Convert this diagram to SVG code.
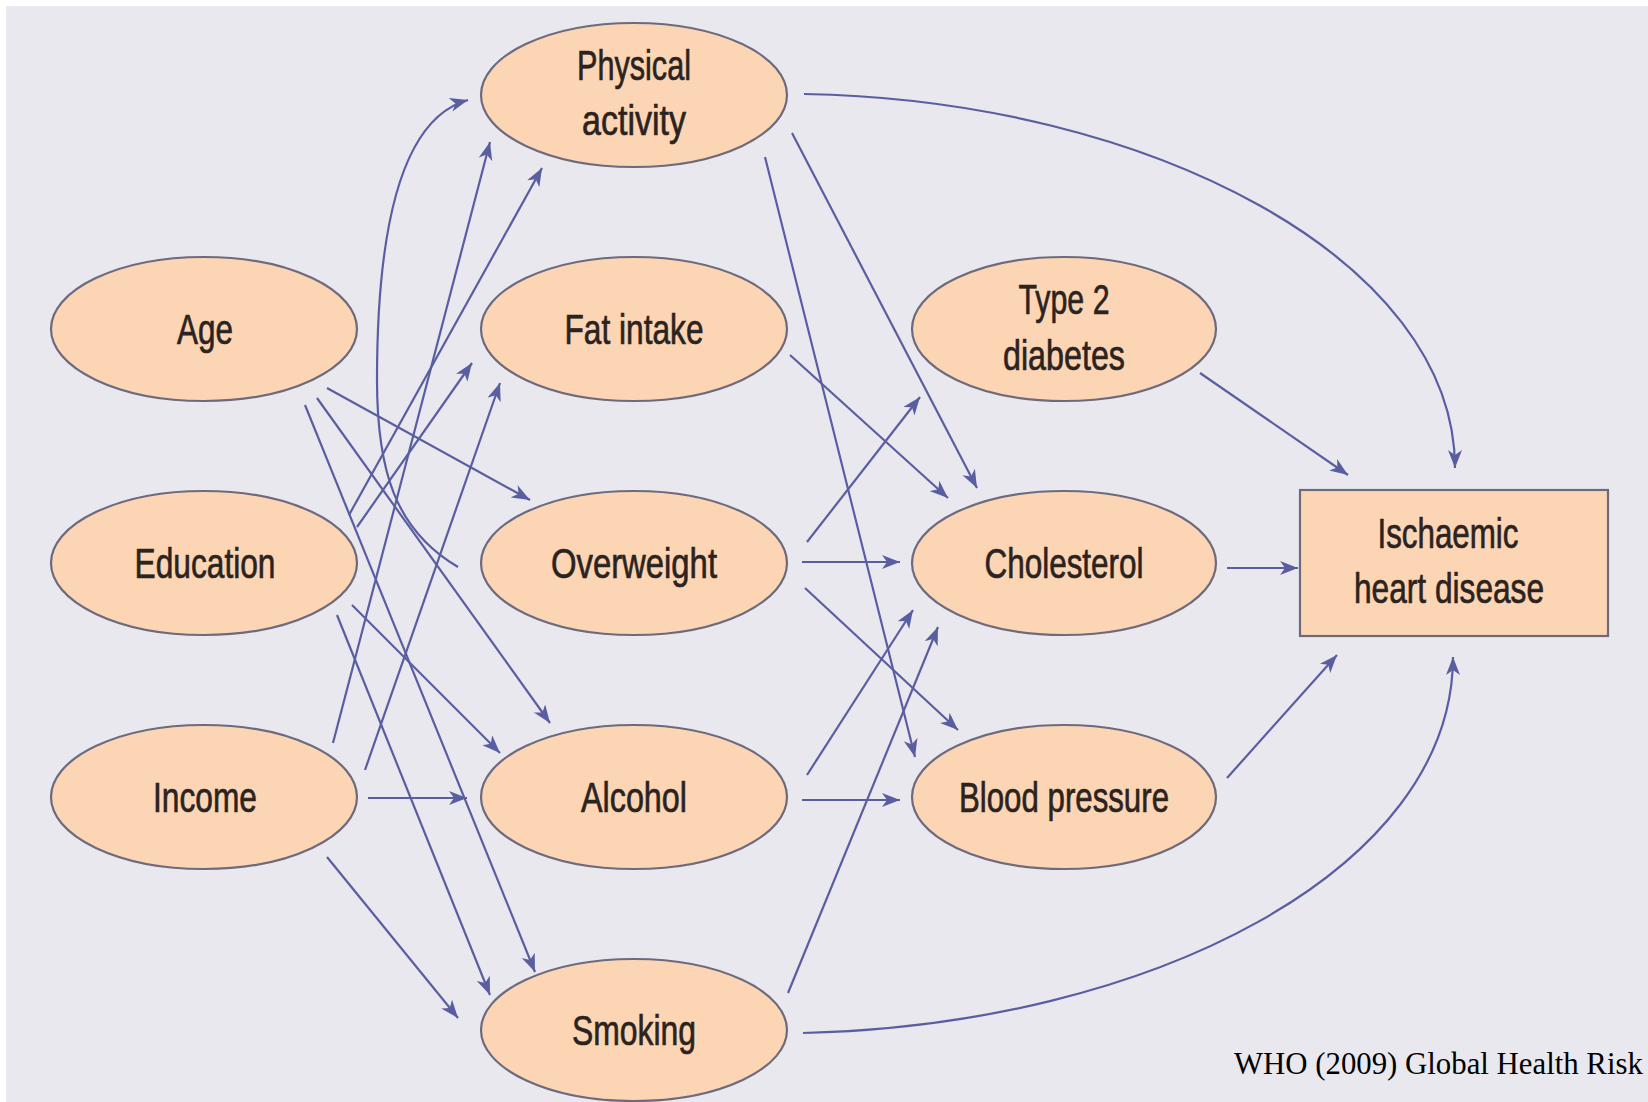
<svg xmlns="http://www.w3.org/2000/svg" width="1648" height="1102" viewBox="0 0 1648 1102">
<style>
.bg{fill:#e8e8ee}
.node{fill:#fcd5b5;stroke:#6e6a7e;stroke-width:2.2}
.lbl{font-family:"Liberation Sans",Arial,sans-serif;font-size:43px;fill:#2b2320;stroke:#2b2320;stroke-width:0.7;text-anchor:middle}
.edge{fill:none;stroke:#5a5ea0;stroke-width:2.2;marker-end:url(#ah)}
.cite{font-family:"Liberation Serif","Times New Roman",serif;font-size:30.8px;fill:#000}
</style>
<defs>
<marker id="ah" markerUnits="userSpaceOnUse" markerWidth="19" markerHeight="15" refX="18" refY="7" orient="auto" viewBox="0 0 19 15">
<path d="M0,0 L18,7 L0,14 L5,7 z" fill="#5a5ea0"/>
</marker>
</defs>
<rect class="bg" x="6" y="6" width="1642" height="1096"/>

<g id="connectors">
<line class="edge" x1="327" y1="388" x2="530" y2="500"/>
<line class="edge" x1="317" y1="398" x2="550" y2="723"/>
<line class="edge" x1="305" y1="405" x2="535" y2="972"/>
<line class="edge" x1="349" y1="515" x2="542" y2="168"/>
<line class="edge" x1="357" y1="527" x2="472" y2="363"/>
<line class="edge" x1="352" y1="605" x2="500" y2="753"/>
<line class="edge" x1="337" y1="615" x2="490" y2="995"/>
<line class="edge" x1="333" y1="743" x2="490" y2="142"/>
<line class="edge" x1="365" y1="770" x2="500" y2="383"/>
<line class="edge" x1="368" y1="798" x2="467" y2="798"/>
<line class="edge" x1="327" y1="857" x2="458" y2="1018"/>
<path class="edge" d="M458,567 C395,530 377,470 377,380 C377,250 395,120 468,100"/>
<path class="edge" d="M804,94 C1150,100 1455,260 1455,468"/>
<line class="edge" x1="792" y1="133" x2="977" y2="488"/>
<line class="edge" x1="765" y1="157" x2="915" y2="757"/>
<line class="edge" x1="790" y1="355" x2="948" y2="498"/>
<line class="edge" x1="807" y1="542" x2="920" y2="397"/>
<line class="edge" x1="802" y1="562" x2="900" y2="562"/>
<line class="edge" x1="805" y1="588" x2="958" y2="730"/>
<line class="edge" x1="807" y1="775" x2="913" y2="610"/>
<line class="edge" x1="802" y1="800" x2="900" y2="800"/>
<line class="edge" x1="788" y1="993" x2="938" y2="627"/>
<path class="edge" d="M803,1033 C1150,1025 1453,870 1453,657"/>
<line class="edge" x1="1200" y1="373" x2="1348" y2="475"/>
<line class="edge" x1="1227" y1="568" x2="1298" y2="568"/>
<line class="edge" x1="1227" y1="778" x2="1337" y2="655"/>
</g>

<g id="age"><ellipse class="node" cx="204" cy="329" rx="153" ry="72"/><text class="lbl" x="205" y="344" textLength="56" lengthAdjust="spacingAndGlyphs">Age</text></g>
<g id="education"><ellipse class="node" cx="204" cy="563" rx="153" ry="72"/><text class="lbl" x="205" y="578" textLength="141" lengthAdjust="spacingAndGlyphs">Education</text></g>
<g id="income"><ellipse class="node" cx="204" cy="797" rx="153" ry="72"/><text class="lbl" x="205" y="812" textLength="104" lengthAdjust="spacingAndGlyphs">Income</text></g>

<g id="physical-activity"><ellipse class="node" cx="634" cy="95" rx="153" ry="72"/><text class="lbl" x="634" y="80" textLength="114" lengthAdjust="spacingAndGlyphs">Physical</text><text class="lbl" x="634" y="135" textLength="104" lengthAdjust="spacingAndGlyphs">activity</text></g>
<g id="fat-intake"><ellipse class="node" cx="634" cy="329" rx="153" ry="72"/><text class="lbl" x="634" y="344" textLength="139" lengthAdjust="spacingAndGlyphs">Fat intake</text></g>
<g id="overweight"><ellipse class="node" cx="634" cy="563" rx="153" ry="72"/><text class="lbl" x="634" y="578" textLength="166" lengthAdjust="spacingAndGlyphs">Overweight</text></g>
<g id="alcohol"><ellipse class="node" cx="634" cy="797" rx="153" ry="72"/><text class="lbl" x="634" y="812" textLength="106" lengthAdjust="spacingAndGlyphs">Alcohol</text></g>
<g id="smoking"><ellipse class="node" cx="634" cy="1030" rx="153" ry="71"/><text class="lbl" x="634" y="1045" textLength="124" lengthAdjust="spacingAndGlyphs">Smoking</text></g>

<g id="type2-diabetes"><ellipse class="node" cx="1064" cy="329" rx="152" ry="72"/><text class="lbl" x="1064" y="314" textLength="91" lengthAdjust="spacingAndGlyphs">Type 2</text><text class="lbl" x="1064" y="370" textLength="122" lengthAdjust="spacingAndGlyphs">diabetes</text></g>
<g id="cholesterol"><ellipse class="node" cx="1064" cy="563" rx="152" ry="72"/><text class="lbl" x="1064" y="578" textLength="159" lengthAdjust="spacingAndGlyphs">Cholesterol</text></g>
<g id="blood-pressure"><ellipse class="node" cx="1064" cy="797" rx="152" ry="72"/><text class="lbl" x="1064" y="812" textLength="210" lengthAdjust="spacingAndGlyphs">Blood pressure</text></g>

<g id="ischaemic-heart-disease"><rect class="node" x="1300" y="490" width="308" height="146"/><text class="lbl" x="1448" y="548" textLength="141" lengthAdjust="spacingAndGlyphs">Ischaemic</text><text class="lbl" x="1449" y="603" textLength="190" lengthAdjust="spacingAndGlyphs">heart disease</text></g>

<text class="cite" x="1234" y="1074">WHO (2009) Global Health Risk</text>
</svg>
